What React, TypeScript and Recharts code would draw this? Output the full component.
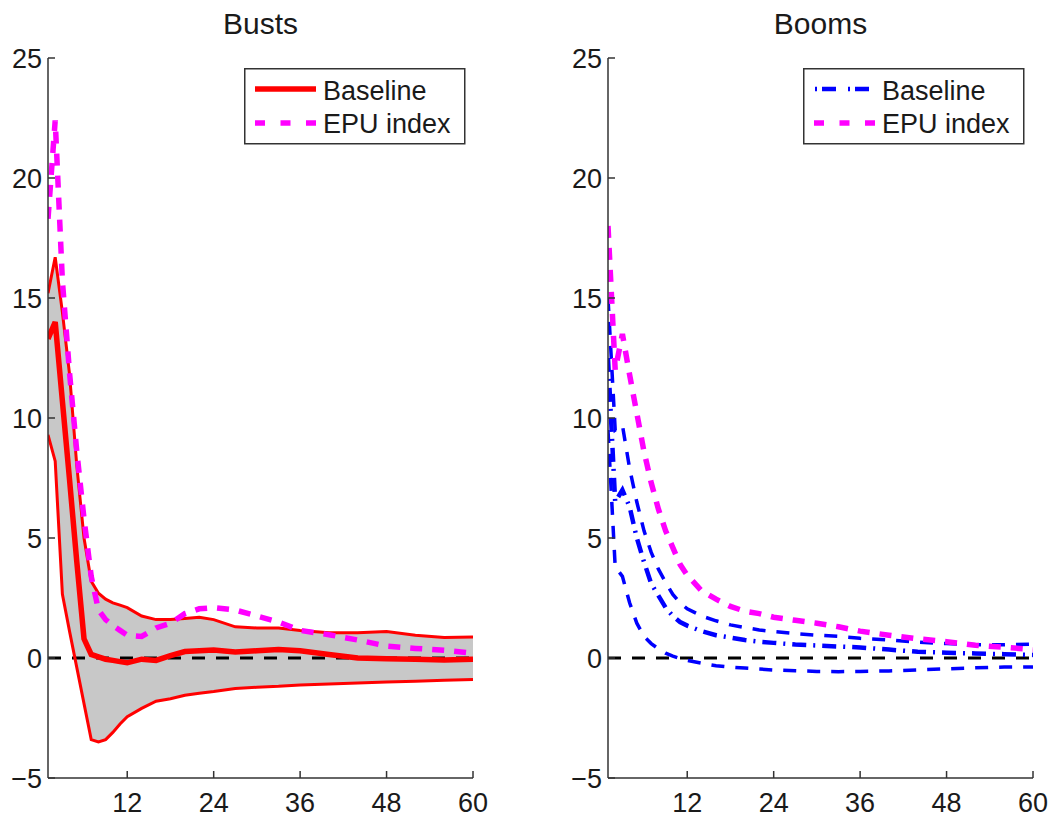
import React from 'react';
import { ComposedChart, Line, Area, XAxis, YAxis, ReferenceLine } from 'recharts';

// forecast horizon (months)
const horizons = [1, 2, 3, 4, 5, 6, 7, 8, 9, 10, 11, 12, 14, 16, 18, 20, 22, 24, 27, 30, 33, 36, 40, 44, 48, 52, 56, 60];

// Busts: baseline response with its band, plus the EPU index variant
const bustsUpper = [15.2, 16.7, 14.4, 11.8, 8.0, 5.0, 3.2, 2.7, 2.45, 2.3, 2.2, 2.1, 1.75, 1.6, 1.6, 1.65, 1.7, 1.6, 1.3, 1.25, 1.25, 1.15, 1.05, 1.05, 1.1, 0.95, 0.85, 0.87];
const bustsBase = [13.3, 14.0, 10.7, 7.4, 4.0, 0.8, 0.15, 0.05, -0.05, -0.1, -0.15, -0.2, -0.05, -0.1, 0.1, 0.27, 0.3, 0.33, 0.25, 0.3, 0.35, 0.3, 0.15, 0.0, -0.03, -0.05, -0.08, -0.05];
const bustsLower = [9.3, 8.2, 2.65, 1.1, -0.4, -1.9, -3.4, -3.5, -3.4, -3.1, -2.75, -2.45, -2.1, -1.8, -1.7, -1.55, -1.47, -1.4, -1.27, -1.22, -1.18, -1.12, -1.08, -1.04, -1.0, -0.97, -0.93, -0.9];
const bustsEpu = [18.3, 22.4, 15.7, 11.85, 8.6, 5.8, 3.4, 2.0, 1.6, 1.35, 1.15, 0.95, 0.9, 1.25, 1.45, 1.85, 2.05, 2.1, 2.0, 1.75, 1.5, 1.15, 0.97, 0.75, 0.5, 0.4, 0.32, 0.2];

// Booms
const boomsUpper = [15.0, 9.5, 9.7, 7.9, 6.5, 5.3, 4.4, 3.7, 3.15, 2.65, 2.3, 2.05, 1.75, 1.55, 1.38, 1.27, 1.17, 1.1, 1.02, 0.95, 0.9, 0.82, 0.75, 0.66, 0.6, 0.55, 0.55, 0.58];
const boomsBase = [12.5, 6.5, 7.0, 6.3, 5.0, 4.0, 3.1, 2.6, 2.1, 1.75, 1.5, 1.35, 1.12, 0.95, 0.85, 0.75, 0.68, 0.63, 0.56, 0.52, 0.48, 0.44, 0.35, 0.26, 0.22, 0.19, 0.16, 0.13];
const boomsLower = [9.5, 3.8, 3.4, 2.3, 1.45, 0.9, 0.6, 0.38, 0.2, 0.08, -0.02, -0.1, -0.22, -0.32, -0.38, -0.42, -0.46, -0.5, -0.53, -0.56, -0.57, -0.56, -0.54, -0.5, -0.45, -0.41, -0.38, -0.37];
const boomsEpu = [18.0, 12.0, 13.5, 11.8, 10.2, 8.6, 7.3, 6.2, 5.3, 4.6, 3.9, 3.45, 2.8, 2.45, 2.15, 1.95, 1.85, 1.7, 1.57, 1.45, 1.3, 1.12, 0.95, 0.8, 0.68, 0.53, 0.45, 0.35];

const xTicks = [12, 24, 36, 48, 60];
const yTicks = [-5, 0, 5, 10, 15, 20, 25];

const FONT = '"Liberation Sans", Arial, Helvetica, sans-serif';
const AXIS = '#333333';
const INK = '#1a1a1a';
const RED = '#ff0000';
const MAGENTA = '#ff00ff';
const BLUE = '#0000ff';

const bustsData = horizons.map((h, i) => ({
  h,
  band: [bustsLower[i], bustsUpper[i]],
  upper: bustsUpper[i],
  base: bustsBase[i],
  lower: bustsLower[i],
  epu: bustsEpu[i],
}));

const boomsData = horizons.map((h, i) => ({
  h,
  upper: boomsUpper[i],
  base: boomsBase[i],
  lower: boomsLower[i],
  epu: boomsEpu[i],
}));

// proper minus sign for negative tick values
const fmtTick = (v: number) => (v < 0 ? `\u2212${-v}` : `${v}`);

// box-style axes with inward ticks on all four sides
function boxAxes() {
  const line = { stroke: AXIS, strokeWidth: 1.5 };
  const tick = { fontSize: 27, fill: INK, fontFamily: FONT };
  return [
    <XAxis key="xb" dataKey="h" type="number" domain={[1, 60]} ticks={xTicks} interval={0}
      allowDataOverflow height={42} tickSize={-7} tickMargin={22}
      axisLine={line} tickLine={line} tick={tick} />,
    <XAxis key="xt" xAxisId="top" orientation="top" dataKey="h" type="number" domain={[1, 60]}
      ticks={xTicks} interval={0} allowDataOverflow height={0} tickSize={-7}
      axisLine={line} tickLine={line} tick={false} />,
    <YAxis key="yl" type="number" domain={[-5, 25]} ticks={yTicks} interval={0} allowDataOverflow
      width={48} tickSize={-7} tickMargin={13} axisLine={line} tickLine={line} tick={tick}
      tickFormatter={fmtTick} />,
    <YAxis key="yr" yAxisId="right" orientation="right" type="number" domain={[-5, 25]} ticks={yTicks}
      interval={0} allowDataOverflow width={0} tickSize={-7} axisLine={line} tickLine={line} tick={false} />,
  ];
}

function LegendBox({ left, baseline }: { left: number; baseline: React.ReactNode }) {
  return (
    <svg style={{ position: 'absolute', left, top: 68 }} width={222} height={77}>
      <rect x={0.75} y={0.75} width={220} height={75} fill="#ffffff" stroke={AXIS} strokeWidth={1.5} />
      {baseline}
      <text x={79} y={32} fontSize={27} fill={INK} fontFamily={FONT}>Baseline</text>
      <line x1={11} x2={72} y1={55} y2={55} stroke={MAGENTA} strokeWidth={5.5} strokeDasharray="10 15.5" />
      <text x={79} y={65} fontSize={27} fill={INK} fontFamily={FONT}>EPU index</text>
    </svg>
  );
}

function Title({ text, left, width }: { text: string; left: number; width: number }) {
  return (
    <div style={{ position: 'absolute', left, width, top: 9, textAlign: 'center', fontSize: 30, lineHeight: '30px', fontFamily: FONT, color: INK }}>
      {text}
    </div>
  );
}

function BustsPanel() {
  return (
    <div style={{ position: 'absolute', left: 0, top: 0, width: 529, height: 820 }}>
      <Title text="Busts" left={48} width={425} />
      <ComposedChart width={529} height={820} data={bustsData} margin={{ top: 58, right: 56, bottom: 0, left: 0 }}>
        {boxAxes()}
        <Area dataKey="band" type="linear" stroke="none" fill="#c8c8c8" fillOpacity={1} isAnimationActive={false} />
        <ReferenceLine y={0} stroke="#000000" strokeWidth={3} strokeDasharray="13 11" />
        <Line dataKey="upper" type="linear" stroke={RED} strokeWidth={3} dot={false} isAnimationActive={false} />
        <Line dataKey="lower" type="linear" stroke={RED} strokeWidth={3} dot={false} isAnimationActive={false} />
        <Line dataKey="base" type="linear" stroke={RED} strokeWidth={5.5} dot={false} isAnimationActive={false} />
        <Line dataKey="epu" type="linear" stroke={MAGENTA} strokeWidth={5.5} strokeDasharray="12 10" dot={false} isAnimationActive={false} />
      </ComposedChart>
      <LegendBox left={244} baseline={<line x1={11} x2={72} y1={21} y2={21} stroke={RED} strokeWidth={5.5} />} />
    </div>
  );
}

function BoomsPanel() {
  return (
    <div style={{ position: 'absolute', left: 560, top: 0, width: 498, height: 820 }}>
      <Title text="Booms" left={48} width={425} />
      <ComposedChart width={498} height={820} data={boomsData} margin={{ top: 58, right: 25, bottom: 0, left: 0 }}>
        {boxAxes()}
        <ReferenceLine y={0} stroke="#000000" strokeWidth={3} strokeDasharray="13 11" />
        <Line dataKey="upper" type="linear" stroke={BLUE} strokeWidth={3.5} strokeDasharray="13 11" dot={false} isAnimationActive={false} />
        <Line dataKey="lower" type="linear" stroke={BLUE} strokeWidth={3.5} strokeDasharray="13 11" dot={false} isAnimationActive={false} />
        <Line dataKey="base" type="linear" stroke={BLUE} strokeWidth={4.5} strokeDasharray="14 7 2 7" dot={false} isAnimationActive={false} />
        <Line dataKey="epu" type="linear" stroke={MAGENTA} strokeWidth={5.5} strokeDasharray="12 10" dot={false} isAnimationActive={false} />
      </ComposedChart>
      <LegendBox left={243} baseline={<line x1={12} x2={73} y1={21} y2={21} stroke={BLUE} strokeWidth={4.5} strokeDasharray="2 5 14 12" />} />
    </div>
  );
}

export default function App() {
  return (
    <div style={{ position: 'absolute', left: 0, top: 0, width: 1058, height: 820, background: '#ffffff' }}>
      <BustsPanel />
      <BoomsPanel />
    </div>
  );
}
